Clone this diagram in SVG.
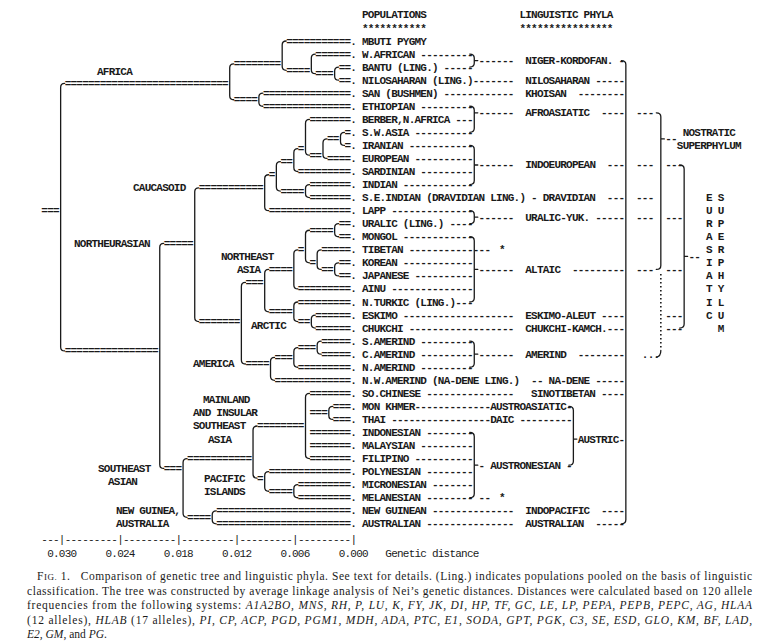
<svg xmlns="http://www.w3.org/2000/svg" width="764" height="642" viewBox="0 0 764 642" xml:space="preserve">
<style>
.t{font-family:"Liberation Mono","DejaVu Sans Mono",monospace;font-size:11px;font-weight:bold;letter-spacing:-0.77px;fill:#1a1a1a;white-space:pre}
.r{font-family:"Liberation Mono","DejaVu Sans Mono",monospace;font-size:11px;letter-spacing:-0.77px;fill:#1a1a1a;white-space:pre}
.b{fill:none;stroke:#1a1a1a;stroke-width:1.3;stroke-linecap:round}
.d{fill:none;stroke:#1a1a1a;stroke-width:1.6;stroke-dasharray:1.6 2.4}
.c{font-family:"Liberation Serif","Times New Roman",serif;font-size:11.5px;fill:#1a1a1a;white-space:pre}
.i{font-style:italic}
</style>
<rect width="764" height="642" fill="#ffffff"/>
<g id="headers">
<text class="t" x="362" y="18.4">POPULATIONS</text>
<text class="t" x="362" y="31.5">***********</text>
<text class="t" x="519.41" y="18.4">LINGUISTIC PHYLA</text>
<text class="t" x="519.41" y="31.5">****************</text>
</g>
<g id="connectors">
<text class="t" x="286.21" y="44.5">===========.</text>
<text class="t" x="315.36" y="57.55">======.</text>
<text class="t" x="338.68" y="70.6">==.</text>
<text class="t" x="338.68" y="83.65">==.</text>
<text class="t" x="262.89" y="96.7">===============.</text>
<text class="t" x="262.89" y="109.75">===============.</text>
<text class="t" x="309.53" y="122.8">=======.</text>
<text class="t" x="344.51" y="135.85">=.</text>
<text class="t" x="344.51" y="148.9">=.</text>
<text class="t" x="327.02" y="161.95">====.</text>
<text class="t" x="297.87" y="175">=========.</text>
<text class="t" x="309.53" y="188.05">=======.</text>
<text class="t" x="309.53" y="201.1">=======.</text>
<text class="t" x="268.72" y="214.15">==============.</text>
<text class="t" x="338.68" y="227.2">==.</text>
<text class="t" x="338.68" y="240.25">==.</text>
<text class="t" x="321.19" y="253.3">=====.</text>
<text class="t" x="338.68" y="266.35">==.</text>
<text class="t" x="338.68" y="279.4">==.</text>
<text class="t" x="297.87" y="292.45">=========.</text>
<text class="t" x="297.87" y="305.5">=========.</text>
<text class="t" x="315.36" y="318.55">======.</text>
<text class="t" x="315.36" y="331.6">======.</text>
<text class="t" x="321.19" y="344.65">=====.</text>
<text class="t" x="321.19" y="357.7">=====.</text>
<text class="t" x="297.87" y="370.75">=========.</text>
<text class="t" x="274.55" y="383.8">=============.</text>
<text class="t" x="309.53" y="396.85">=======.</text>
<text class="t" x="332.85" y="409.9">===.</text>
<text class="t" x="332.85" y="422.95">===.</text>
<text class="t" x="309.53" y="436">=======.</text>
<text class="t" x="309.53" y="449.05">=======.</text>
<text class="t" x="309.53" y="462.1">=======.</text>
<text class="t" x="268.72" y="475.15">==============.</text>
<text class="t" x="297.87" y="488.2">=========.</text>
<text class="t" x="297.87" y="501.25">=========.</text>
<text class="t" x="216.25" y="514.3">=======================.</text>
<text class="t" x="216.25" y="527.35">=======================.</text>
<text class="t" x="315.36" y="77.13">===</text>
<text class="t" x="286.21" y="73.86">====</text>
<text class="t" x="233.74" y="67.34">========</text>
<text class="t" x="233.74" y="103.23">====</text>
<text class="t" x="64.67" y="86.91">============================</text>
<text class="t" x="327.02" y="142.38">==</text>
<text class="t" x="309.53" y="158.69">==</text>
<text class="t" x="297.87" y="152.16">=</text>
<text class="t" x="280.38" y="165.21">==</text>
<text class="t" x="280.38" y="194.58">====</text>
<text class="t" x="268.72" y="178.26">=</text>
<text class="t" x="198.76" y="191.31">===========</text>
<text class="t" x="309.53" y="233.73">====</text>
<text class="t" x="321.19" y="272.88">==</text>
<text class="t" x="309.53" y="266.35">=</text>
<text class="t" x="297.87" y="253.3">=</text>
<text class="t" x="268.72" y="272.88">====</text>
<text class="t" x="297.87" y="325.08">==</text>
<text class="t" x="268.72" y="315.29">====</text>
<text class="t" x="245.4" y="285.93">===</text>
<text class="t" x="297.87" y="351.18">===</text>
<text class="t" x="274.55" y="360.96">===</text>
<text class="t" x="245.4" y="367.49">====</text>
<text class="t" x="198.76" y="325.08">=======</text>
<text class="t" x="163.78" y="246.78">=====</text>
<text class="t" x="309.53" y="416.43">===</text>
<text class="t" x="257.06" y="429.48">========</text>
<text class="t" x="268.72" y="494.73">====</text>
<text class="t" x="257.06" y="481.68">=</text>
<text class="t" x="187.1" y="462.1">===========</text>
<text class="t" x="187.1" y="520.83">====</text>
<text class="t" x="163.78" y="471.89">===</text>
<text class="t" x="64.67" y="354.44">================</text>
<text class="t" x="41.35" y="214.15">===</text>
<path class="b" d="M338.65,67.1Q334.65,67.1 334.65,71.1V76.15Q334.65,80.15 338.65,80.15"/>
<path class="b" d="M315.33,54.05Q311.33,54.05 311.33,58.05V69.63Q311.33,73.63 315.33,73.63"/>
<path class="b" d="M286.18,41Q282.18,41 282.18,45V66.36Q282.18,70.36 286.18,70.36"/>
<path class="b" d="M262.86,93.2Q258.86,93.2 258.86,97.2V102.25Q258.86,106.25 262.86,106.25"/>
<path class="b" d="M233.71,63.84Q229.71,63.84 229.71,67.84V95.73Q229.71,99.73 233.71,99.73"/>
<path class="b" d="M64.64,83.41Q60.64,83.41 60.64,87.41V346.94Q60.64,350.94 64.64,350.94"/>
<path class="b" d="M344.48,132.35Q340.48,132.35 340.48,136.35V141.4Q340.48,145.4 344.48,145.4"/>
<path class="b" d="M326.99,138.88Q322.99,138.88 322.99,142.88V154.45Q322.99,158.45 326.99,158.45"/>
<path class="b" d="M309.5,119.3Q305.5,119.3 305.5,123.3V151.19Q305.5,155.19 309.5,155.19"/>
<path class="b" d="M297.84,148.66Q293.84,148.66 293.84,152.66V167.5Q293.84,171.5 297.84,171.5"/>
<path class="b" d="M309.5,184.55Q305.5,184.55 305.5,188.55V193.6Q305.5,197.6 309.5,197.6"/>
<path class="b" d="M280.35,161.71Q276.35,161.71 276.35,165.71V187.08Q276.35,191.08 280.35,191.08"/>
<path class="b" d="M268.69,174.76Q264.69,174.76 264.69,178.76V206.65Q264.69,210.65 268.69,210.65"/>
<path class="b" d="M338.65,223.7Q334.65,223.7 334.65,227.7V232.75Q334.65,236.75 338.65,236.75"/>
<path class="b" d="M338.65,262.85Q334.65,262.85 334.65,266.85V271.9Q334.65,275.9 338.65,275.9"/>
<path class="b" d="M321.16,249.8Q317.16,249.8 317.16,253.8V265.38Q317.16,269.38 321.16,269.38"/>
<path class="b" d="M309.5,230.23Q305.5,230.23 305.5,234.23V258.85Q305.5,262.85 309.5,262.85"/>
<path class="b" d="M297.84,249.8Q293.84,249.8 293.84,253.8V284.95Q293.84,288.95 297.84,288.95"/>
<path class="b" d="M315.33,315.05Q311.33,315.05 311.33,319.05V324.1Q311.33,328.1 315.33,328.1"/>
<path class="b" d="M297.84,302Q293.84,302 293.84,306V317.58Q293.84,321.58 297.84,321.58"/>
<path class="b" d="M268.69,269.38Q264.69,269.38 264.69,273.38V307.79Q264.69,311.79 268.69,311.79"/>
<path class="b" d="M321.16,341.15Q317.16,341.15 317.16,345.15V350.2Q317.16,354.2 321.16,354.2"/>
<path class="b" d="M297.84,347.68Q293.84,347.68 293.84,351.68V363.25Q293.84,367.25 297.84,367.25"/>
<path class="b" d="M274.52,357.46Q270.52,357.46 270.52,361.46V376.3Q270.52,380.3 274.52,380.3"/>
<path class="b" d="M245.37,282.43Q241.37,282.43 241.37,286.43V359.99Q241.37,363.99 245.37,363.99"/>
<path class="b" d="M198.73,187.81Q194.73,187.81 194.73,191.81V317.58Q194.73,321.58 198.73,321.58"/>
<path class="b" d="M163.75,243.28Q159.75,243.28 159.75,247.28V464.39Q159.75,468.39 163.75,468.39"/>
<path class="b" d="M332.82,406.4Q328.82,406.4 328.82,410.4V415.45Q328.82,419.45 332.82,419.45"/>
<path class="b" d="M309.5,393.35Q305.5,393.35 305.5,397.35V454.6Q305.5,458.6 309.5,458.6"/>
<path class="b" d="M297.84,484.7Q293.84,484.7 293.84,488.7V493.75Q293.84,497.75 297.84,497.75"/>
<path class="b" d="M268.69,471.65Q264.69,471.65 264.69,475.65V487.23Q264.69,491.23 268.69,491.23"/>
<path class="b" d="M257.03,425.98Q253.03,425.98 253.03,429.98V474.18Q253.03,478.18 257.03,478.18"/>
<path class="b" d="M216.22,510.8Q212.22,510.8 212.22,514.8V519.85Q212.22,523.85 216.22,523.85"/>
<path class="b" d="M187.07,458.6Q183.07,458.6 183.07,462.6V513.33Q183.07,517.33 187.07,517.33"/>
<text class="t" x="420.3" y="57.55">---------</text>
<text class="t" x="478.6" y="64.08">------</text>
<text class="t" x="618.52" y="64.08">-</text>
<text class="t" x="443.62" y="70.6">-----</text>
<text class="t" x="472.77" y="83.65">-------</text>
<text class="t" x="595.2" y="83.65">-----</text>
<text class="t" x="443.62" y="96.7">------------</text>
<text class="t" x="577.71" y="96.7">--------</text>
<text class="t" x="420.3" y="109.75">---------</text>
<text class="t" x="478.6" y="116.28">------</text>
<text class="t" x="601.03" y="116.28">----</text>
<text class="t" x="636.01" y="116.28">---</text>
<text class="t" x="455.28" y="122.8">---</text>
<text class="t" x="414.47" y="135.85">----------</text>
<text class="t" x="665.16" y="142.38">--</text>
<text class="t" x="408.64" y="148.9">-----------</text>
<text class="t" x="414.47" y="161.95">----------</text>
<text class="t" x="478.6" y="168.48">------</text>
<text class="t" x="606.86" y="168.48">---</text>
<text class="t" x="636.01" y="168.48">---</text>
<text class="t" x="665.16" y="168.48">---</text>
<text class="t" x="420.3" y="175">---------</text>
<text class="t" x="402.81" y="188.05">------------</text>
<text class="t" x="531.07" y="201.1">-</text>
<text class="t" x="606.86" y="201.1">---</text>
<text class="t" x="636.01" y="201.1">---</text>
<text class="t" x="391.15" y="214.15">--------------</text>
<text class="t" x="478.6" y="220.68">------</text>
<text class="t" x="595.2" y="220.68">-----</text>
<text class="t" x="636.01" y="220.68">---</text>
<text class="t" x="665.16" y="220.68">---</text>
<text class="t" x="449.45" y="227.2">----</text>
<text class="t" x="402.81" y="240.25">------------</text>
<text class="t" x="408.64" y="253.3">--------------</text>
<text class="t" x="499" y="253.3">*</text>
<text class="t" x="688.48" y="259.83">--</text>
<text class="t" x="402.81" y="266.35">------------</text>
<text class="t" x="478.6" y="272.88">------</text>
<text class="t" x="571.88" y="272.88">---------</text>
<text class="t" x="636.01" y="272.88">---</text>
<text class="t" x="665.16" y="272.88">---</text>
<text class="t" x="414.47" y="279.4">----------</text>
<text class="t" x="391.15" y="292.45">--------------</text>
<text class="t" x="455.28" y="305.5">---</text>
<text class="t" x="402.81" y="318.55">-------------------</text>
<text class="t" x="601.03" y="318.55">----</text>
<text class="t" x="665.16" y="318.55">---</text>
<text class="t" x="408.64" y="331.6">------------------</text>
<text class="t" x="606.86" y="331.6">---</text>
<text class="t" x="665.16" y="331.6">---</text>
<text class="t" x="420.3" y="344.65">---------</text>
<text class="t" x="420.3" y="357.7">---------</text>
<text class="t" x="478.6" y="357.7">------</text>
<text class="t" x="577.71" y="357.7">--------</text>
<text class="t" x="641.84" y="357.7">...</text>
<text class="t" x="420.3" y="370.75">---------</text>
<text class="t" x="531.07" y="383.8">--</text>
<text class="t" x="595.2" y="383.8">-----</text>
<text class="t" x="426.13" y="396.85">---------------</text>
<text class="t" x="601.03" y="396.85">----</text>
<text class="t" x="414.47" y="409.9">-------------</text>
<text class="t" x="566.05" y="409.9">-</text>
<text class="t" x="391.15" y="422.95">-----------------</text>
<text class="t" x="519.41" y="422.95">---------</text>
<text class="t" x="426.13" y="436">--------</text>
<text class="t" x="618.52" y="442.53">-</text>
<text class="t" x="420.3" y="449.05">---------</text>
<text class="t" x="414.47" y="462.1">----------</text>
<text class="t" x="478.6" y="468.63">-</text>
<text class="t" x="566.05" y="468.63">-</text>
<text class="t" x="426.13" y="475.15">--------</text>
<text class="t" x="431.96" y="488.2">-------</text>
<text class="t" x="426.13" y="501.25">--------</text>
<text class="t" x="478.6" y="501.25">--</text>
<text class="t" x="499" y="501.25">*</text>
<text class="t" x="431.96" y="514.3">--------------</text>
<text class="t" x="601.03" y="514.3">----</text>
<text class="t" x="426.13" y="527.35">---------------</text>
<text class="t" x="595.2" y="527.35">-----</text>
<path class="b" d="M469.77,54.05Q474.27,54.05 474.27,58.05V63.1Q474.27,67.1 469.77,67.1M474.27,60.58h3.5"/>
<path class="b" d="M469.77,106.25Q474.27,106.25 474.27,110.25V128.35Q474.27,132.35 469.77,132.35M474.27,112.78h3.5"/>
<path class="b" d="M469.77,145.4Q474.27,145.4 474.27,149.4V180.55Q474.27,184.55 469.77,184.55M474.27,164.98h3.5"/>
<path class="b" d="M469.77,210.65Q474.27,210.65 474.27,214.65V219.7Q474.27,223.7 469.77,223.7M474.27,217.18h3.5"/>
<path class="b" d="M469.77,236.75Q474.27,236.75 474.27,240.75V298Q474.27,302 469.77,302M474.27,269.38h3.5"/>
<path class="b" d="M469.77,341.15Q474.27,341.15 474.27,345.15V363.25Q474.27,367.25 469.77,367.25M474.27,354.2h3.5"/>
<path class="b" d="M469.77,432.5Q474.27,432.5 474.27,436.5V493.75Q474.27,497.75 469.77,497.75M474.27,465.13h3.5"/>
<path class="b" d="M568.88,406.4Q573.38,406.4 573.38,410.4V461.13Q573.38,465.13 568.88,465.13M573.38,439.03h3.5"/>
<path class="b" d="M621.35,60.58Q625.85,60.58 625.85,64.58V519.85Q625.85,523.85 621.35,523.85"/>
<path class="b" d="M656.33,112.78Q660.83,112.78 660.83,116.78V265.38Q660.83,269.38 656.33,269.38M660.83,138.88h3.5"/>
<path class="b" d="M679.65,164.98Q684.15,164.98 684.15,168.98V324.1Q684.15,328.1 679.65,328.1M684.15,256.33h3.5"/>
<path class="d" d="M660.83,274V350"/>
<path class="b" d="M660.83,350.5Q660.83,356.5 656.3,357.2"/>
</g>
<g id="clusters">
<g id="n-africa"><text class="t" x="97" y="75">AFRICA</text></g>
<g id="n-caucasoid"><text class="t" x="133" y="191.31">CAUCASOID</text></g>
<g id="n-northeurasian"><text class="t" x="74" y="246.78">NORTHEURASIAN</text></g>
<g id="n-northeastasia"><text class="t" x="221" y="259.83">NORTHEAST</text><text class="t" x="237" y="272.88">ASIA</text></g>
<g id="n-arctic"><text class="t" x="251" y="328.5">ARCTIC</text></g>
<g id="n-america"><text class="t" x="193" y="367.49">AMERICA</text></g>
<g id="n-mainland"><text class="t" x="203" y="403.38">MAINLAND</text><text class="t" x="193" y="416.43">AND INSULAR</text><text class="t" x="193" y="429.48">SOUTHEAST</text><text class="t" x="208" y="442.53">ASIA</text></g>
<g id="n-pacific"><text class="t" x="204" y="481.68">PACIFIC</text><text class="t" x="204" y="494.73">ISLANDS</text></g>
<g id="n-southeastasian"><text class="t" x="98" y="471.89">SOUTHEAST</text><text class="t" x="108" y="484.94">ASIAN</text></g>
<g id="n-newguinea"><text class="t" x="116" y="514.3">NEW GUINEA,</text><text class="t" x="116" y="527.35">AUSTRALIA</text></g>
</g>
<g id="populations">
<g id="p-mbuti"><text class="t" x="362" y="44.5">MBUTI PYGMY</text></g>
<g id="p-wafrican"><text class="t" x="362" y="57.55">W.AFRICAN</text></g>
<g id="p-bantu"><text class="t" x="362" y="70.6">BANTU (LING.)</text></g>
<g id="p-nilosaharan"><text class="t" x="362" y="83.65">NILOSAHARAN (LING.)</text></g>
<g id="p-san"><text class="t" x="362" y="96.7">SAN (BUSHMEN)</text></g>
<g id="p-ethiopian"><text class="t" x="362" y="109.75">ETHIOPIAN</text></g>
<g id="p-berber"><text class="t" x="362" y="122.8">BERBER,N.AFRICA</text></g>
<g id="p-swasia"><text class="t" x="362" y="135.85">S.W.ASIA</text></g>
<g id="p-iranian"><text class="t" x="362" y="148.9">IRANIAN</text></g>
<g id="p-european"><text class="t" x="362" y="161.95">EUROPEAN</text></g>
<g id="p-sardinian"><text class="t" x="362" y="175">SARDINIAN</text></g>
<g id="p-indian"><text class="t" x="362" y="188.05">INDIAN</text></g>
<g id="p-seindian"><text class="t" x="362" y="201.1">S.E.INDIAN (DRAVIDIAN LING.)</text></g>
<g id="p-lapp"><text class="t" x="362" y="214.15">LAPP</text></g>
<g id="p-uralic"><text class="t" x="362" y="227.2">URALIC (LING.)</text></g>
<g id="p-mongol"><text class="t" x="362" y="240.25">MONGOL</text></g>
<g id="p-tibetan"><text class="t" x="362" y="253.3">TIBETAN</text></g>
<g id="p-korean"><text class="t" x="362" y="266.35">KOREAN</text></g>
<g id="p-japanese"><text class="t" x="362" y="279.4">JAPANESE</text></g>
<g id="p-ainu"><text class="t" x="362" y="292.45">AINU</text></g>
<g id="p-nturkic"><text class="t" x="362" y="305.5">N.TURKIC (LING.)</text></g>
<g id="p-eskimo"><text class="t" x="362" y="318.55">ESKIMO</text></g>
<g id="p-chukchi"><text class="t" x="362" y="331.6">CHUKCHI</text></g>
<g id="p-samerind"><text class="t" x="362" y="344.65">S.AMERIND</text></g>
<g id="p-camerind"><text class="t" x="362" y="357.7">C.AMERIND</text></g>
<g id="p-namerind"><text class="t" x="362" y="370.75">N.AMERIND</text></g>
<g id="p-nwamerind"><text class="t" x="362" y="383.8">N.W.AMERIND (NA-DENE LING.)</text></g>
<g id="p-sochinese"><text class="t" x="362" y="396.85">SO.CHINESE</text></g>
<g id="p-monkhmer"><text class="t" x="362" y="409.9">MON KHMER</text></g>
<g id="p-thai"><text class="t" x="362" y="422.95">THAI</text></g>
<g id="p-indonesian"><text class="t" x="362" y="436">INDONESIAN</text></g>
<g id="p-malaysian"><text class="t" x="362" y="449.05">MALAYSIAN</text></g>
<g id="p-filipino"><text class="t" x="362" y="462.1">FILIPINO</text></g>
<g id="p-polynesian"><text class="t" x="362" y="475.15">POLYNESIAN</text></g>
<g id="p-micronesian"><text class="t" x="362" y="488.2">MICRONESIAN</text></g>
<g id="p-melanesian"><text class="t" x="362" y="501.25">MELANESIAN</text></g>
<g id="p-newguinean"><text class="t" x="362" y="514.3">NEW GUINEAN</text></g>
<g id="p-australian"><text class="t" x="362" y="527.35">AUSTRALIAN</text></g>
</g>
<g id="phyla">
<g id="l-nigerkordofan"><text class="t" x="525.24" y="64.08">NIGER-KORDOFAN.</text></g>
<g id="l-nilosaharan"><text class="t" x="525.24" y="83.65">NILOSAHARAN</text></g>
<g id="l-khoisan"><text class="t" x="525.24" y="96.7">KHOISAN</text></g>
<g id="l-afroasiatic"><text class="t" x="525.24" y="116.28">AFROASIATIC</text></g>
<g id="l-indoeuropean"><text class="t" x="525.24" y="168.48">INDOEUROPEAN</text></g>
<g id="l-dravidian"><text class="t" x="542.73" y="201.1">DRAVIDIAN</text></g>
<g id="l-uralicyuk"><text class="t" x="525.24" y="220.68">URALIC-YUK.</text></g>
<g id="l-altaic"><text class="t" x="525.24" y="272.88">ALTAIC</text></g>
<g id="l-eskimoaleut"><text class="t" x="525.24" y="318.55">ESKIMO-ALEUT</text></g>
<g id="l-chukchikamch"><text class="t" x="525.24" y="331.6">CHUKCHI-KAMCH.</text></g>
<g id="l-amerind"><text class="t" x="525.24" y="357.7">AMERIND</text></g>
<g id="l-nadene"><text class="t" x="548.56" y="383.8">NA-DENE</text></g>
<g id="l-sinotibetan"><text class="t" x="531.07" y="396.85">SINOTIBETAN</text></g>
<g id="l-austroasiatic"><text class="t" x="490.26" y="409.9">AUSTROASIATIC</text></g>
<g id="l-daic"><text class="t" x="490.26" y="422.95">DAIC</text></g>
<g id="l-austric"><text class="t" x="577.71" y="442.53">AUSTRIC</text></g>
<g id="l-austronesian"><text class="t" x="490.26" y="468.63">AUSTRONESIAN</text></g>
<g id="l-indopacific"><text class="t" x="525.24" y="514.3">INDOPACIFIC</text></g>
<g id="l-australian"><text class="t" x="525.24" y="527.35">AUSTRALIAN</text></g>
<g id="l-nostratic"><text class="t" x="682.65" y="135.85">NOSTRATIC</text><text class="t" x="676.82" y="148.9">SUPERPHYLUM</text></g>
<g id="l-eurasiatic"><text class="t"><tspan x="705.97" y="201.1">E</tspan><tspan x="705.97" y="214.15">U</tspan><tspan x="705.97" y="227.2">R</tspan><tspan x="705.97" y="240.25">A</tspan><tspan x="705.97" y="253.3">S</tspan><tspan x="705.97" y="266.35">I</tspan><tspan x="705.97" y="279.4">A</tspan><tspan x="705.97" y="292.45">T</tspan><tspan x="705.97" y="305.5">I</tspan><tspan x="705.97" y="318.55">C</tspan></text><text class="t"><tspan x="717.63" y="201.1">S</tspan><tspan x="717.63" y="214.15">U</tspan><tspan x="717.63" y="227.2">P</tspan><tspan x="717.63" y="240.25">E</tspan><tspan x="717.63" y="253.3">R</tspan><tspan x="717.63" y="266.35">P</tspan><tspan x="717.63" y="279.4">H</tspan><tspan x="717.63" y="292.45">Y</tspan><tspan x="717.63" y="305.5">L</tspan><tspan x="717.63" y="318.55">U</tspan><tspan x="717.63" y="331.6">M</tspan></text></g>
</g>
<g id="axis">
<text class="r" x="41.35" y="543">---|---------|---------|---------|---------|---------|</text>
<text class="r" x="47.18" y="557">0.030</text>
<text class="r" x="105.48" y="557">0.024</text>
<text class="r" x="163.78" y="557">0.018</text>
<text class="r" x="222.08" y="557">0.012</text>
<text class="r" x="280.38" y="557">0.006</text>
<text class="r" x="338.68" y="557">0.000</text>
<text class="r" x="385.32" y="557">Genetic distance</text>
</g>
<g id="caption">
<text class="c" x="37" y="580" textLength="715" lengthAdjust="spacing">F<tspan style="font-size:9px">IG.</tspan> 1.   Comparison of genetic tree and linguistic phyla. See text for details. (Ling.) indicates populations pooled on the basis of linguistic</text>
<text class="c" x="27" y="594.5" textLength="725" lengthAdjust="spacing">classification. The tree was constructed by average linkage analysis of Nei’s genetic distances. Distances were calculated based on 120 allele</text>
<text class="c" x="27" y="609" textLength="725" lengthAdjust="spacing">frequencies from the following systems: <tspan class="i">A1A2BO, MNS, RH, P, LU, K, FY, JK, DI, HP, TF, GC, LE, LP, PEPA, PEPB, PEPC, AG, HLAA</tspan></text>
<text class="c" x="27" y="623.5" textLength="725" lengthAdjust="spacing">(12 alleles), <tspan class="i">HLAB</tspan> (17 alleles), <tspan class="i">PI, CP, ACP, PGD, PGM1, MDH, ADA, PTC, E1, SODA, GPT, PGK, C3, SE, ESD, GLO, KM, BF, LAD,</tspan></text>
<text class="c" x="27" y="638"><tspan class="i">E2, GM</tspan>, and <tspan class="i">PG</tspan>.</text>
</g>
</svg>
